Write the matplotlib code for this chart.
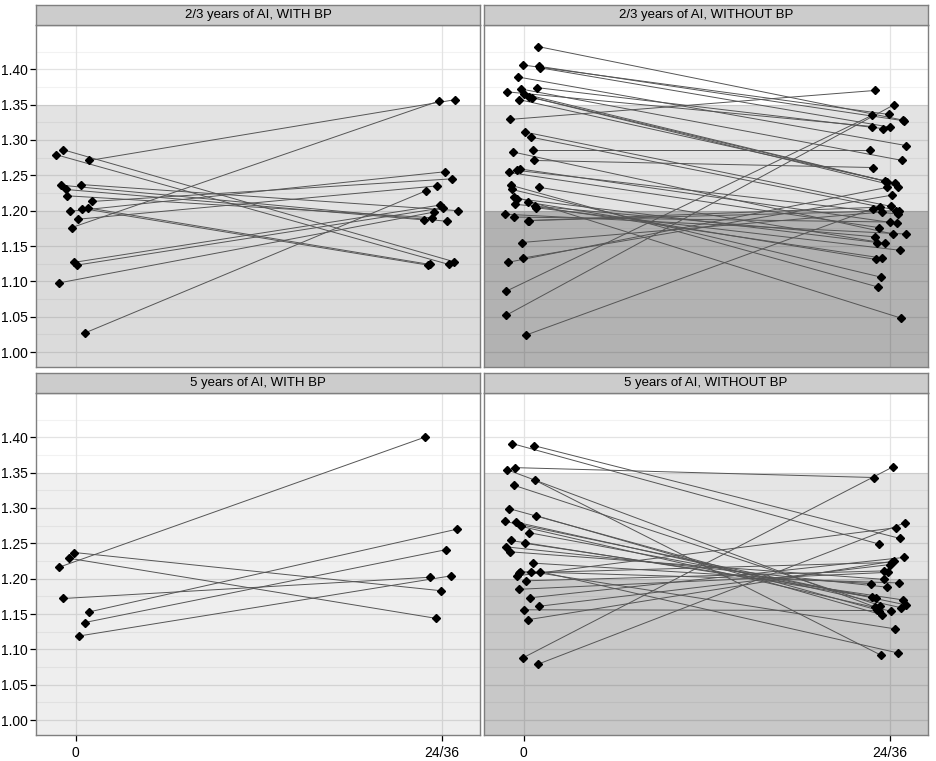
import matplotlib
matplotlib.use("Agg")
import matplotlib.pyplot as plt
import numpy as np

plt.rcParams["font.family"] = ["Liberation Sans", "DejaVu Sans"]

# ---- data: value at baseline (0) and at follow-up (24/36), plus jitter ----
x_labels = ["0", "24/36"]
y_ticks = [1.00, 1.05, 1.10, 1.15, 1.20, 1.25, 1.30, 1.35, 1.40]
band_hi = 1.35
band_lo = 1.20

titles = ["2/3 years of AI, WITH BP", "2/3 years of AI, WITHOUT BP",
          "5 years of AI, WITH BP", "5 years of AI, WITHOUT BP"]

tl_t0 = [1.279, 1.286, 1.271, 1.236, 1.230, 1.221, 1.237, 1.199, 1.203,
         1.204, 1.213, 1.188, 1.176, 1.127, 1.123, 1.098, 1.027]
tl_t1 = [1.124, 1.128, 1.357, 1.185, 1.187, 1.190, 1.200, 1.255, 1.123,
         1.124, 1.245, 1.235, 1.355, 1.208, 1.204, 1.198, 1.228]
tl_j0 = [-0.052, -0.033, 0.038, -0.039, -0.027, -0.022, 0.014, -0.016, 0.019,
         0.033, 0.044, 0.008, -0.011, -0.003, 0.003, -0.044, 0.025]
tl_j1 = [0.020, 0.033, 0.038, 0.015, -0.049, -0.026, 0.045, 0.009, -0.037,
         -0.032, 0.028, -0.013, -0.007, -0.003, 0.003, -0.021, -0.043]

tr_t0 = [1.432, 1.406, 1.404, 1.402, 1.389, 1.368, 1.372, 1.374, 1.365, 1.357,
         1.361, 1.360, 1.329, 1.311, 1.304, 1.286, 1.283, 1.271, 1.254, 1.257,
         1.259, 1.236, 1.230, 1.233, 1.220, 1.217, 1.209, 1.212, 1.206, 1.204,
         1.195, 1.191, 1.186, 1.186, 1.155, 1.133, 1.127, 1.086, 1.052, 1.024]
tr_t1 = [1.328, 1.336, 1.327, 1.318, 1.292, 1.319, 1.271, 1.316, 1.242, 1.239,
         1.241, 1.234, 1.370, 1.206, 1.200, 1.286, 1.167, 1.261, 1.176, 1.195,
         1.182, 1.092, 1.106, 1.154, 1.048, 1.155, 1.163, 1.131, 1.133, 1.144,
         1.167, 1.184, 1.200, 1.205, 1.198, 1.222, 1.233, 1.335, 1.350, 1.203]
tr_j0 = [0.040, -0.002, 0.043, 0.045, -0.015, -0.045, -0.007, 0.036, 0.001, -0.012,
         0.016, 0.022, -0.037, 0.005, 0.020, 0.025, -0.029, 0.028, -0.040, -0.018,
         -0.010, -0.035, -0.032, 0.043, -0.026, -0.018, -0.024, 0.012, 0.032, 0.035,
         -0.051, -0.026, 0.012, 0.015, -0.005, -0.002, -0.042, -0.048, -0.048, 0.006]
tr_j1 = [0.037, -0.001, 0.040, 0.002, 0.046, -0.048, 0.035, -0.017, -0.013, 0.015,
         -0.007, 0.024, -0.039, 0.005, 0.026, -0.053, 0.010, -0.045, -0.028, 0.024,
         0.021, -0.031, -0.023, -0.012, 0.032, -0.034, -0.041, -0.036, -0.020, 0.029,
         0.044, 0.002, 0.018, -0.025, -0.022, 0.007, -0.006, -0.047, 0.013, -0.045]

bl_t0 = [1.216, 1.229, 1.237, 1.172, 1.153, 1.138, 1.119]
bl_t1 = [1.400, 1.144, 1.183, 1.202, 1.270, 1.241, 1.204]
bl_j0 = [-0.046, -0.019, -0.003, -0.033, 0.037, 0.025, 0.010]
bl_j1 = [-0.046, -0.016, -0.002, -0.032, 0.042, 0.012, 0.026]

br_t0 = [1.391, 1.388, 1.354, 1.357, 1.339, 1.332, 1.299, 1.281, 1.280, 1.289,
         1.274, 1.265, 1.254, 1.250, 1.245, 1.238, 1.222, 1.204, 1.208, 1.210,
         1.210, 1.210, 1.197, 1.185, 1.173, 1.161, 1.156, 1.142, 1.088, 1.079]
br_t1 = [1.249, 1.257, 1.160, 1.343, 1.092, 1.162, 1.156, 1.163, 1.159, 1.149,
         1.154, 1.173, 1.174, 1.170, 1.188, 1.199, 1.193, 1.272, 1.223, 1.194,
         1.129, 1.095, 1.211, 1.209, 1.230, 1.220, 1.155, 1.225, 1.358, 1.279]
br_j0 = [-0.031, 0.029, -0.045, -0.024, 0.032, -0.026, -0.039, -0.051, -0.021, 0.035,
         -0.007, 0.015, -0.035, 0.004, -0.048, -0.037, 0.025, -0.018, -0.013, -0.010,
         0.020, 0.045, 0.006, -0.013, 0.018, 0.042, 0.001, 0.012, -0.002, 0.039]
br_j1 = [-0.029, 0.028, -0.040, -0.042, -0.024, -0.026, -0.035, 0.044, 0.031, -0.021,
         0.004, -0.037, -0.048, 0.036, -0.007, -0.015, -0.051, 0.017, 0.006, 0.026,
         0.015, 0.023, -0.014, -0.003, 0.039, 0.001, -0.030, 0.012, 0.009, 0.042]

# shading of the two bands per panel (opacity of black over white)
band_alpha_hi = [0.110, 0.110, 0.059, 0.102]
band_alpha_lo = [0.031, 0.211, 0.008, 0.127]

panels = [(tl_t0, tl_t1, tl_j0, tl_j1), (tr_t0, tr_t1, tr_j0, tr_j1),
          (bl_t0, bl_t1, bl_j0, bl_j1), (br_t0, br_t1, br_j0, br_j1)]

W, H = 937, 761
fig = plt.figure(figsize=(W / 100, H / 100), dpi=100)


def px_box(x0, y0, x1, y1):
    return [x0 / W, 1 - y1 / H, (x1 - x0) / W, (y1 - y0) / H]


cols = [(36, 480), (484, 928)]
rows = [(5, 25, 367), (373, 393, 735)]
border = "#7f7f7f"

for i, (t0, t1, j0, j1) in enumerate(panels):
    r, c = divmod(i, 2)
    x0, x1 = cols[c]
    s0, p0, p1 = rows[r]

    ax = fig.add_axes(px_box(x0, p0, x1, p1))
    ax.set_xlim(-0.108, 1.105)
    ax.set_ylim(0.979, 1.4625)

    # grid
    for y in np.arange(1.025, 1.45, 0.05):
        ax.axhline(y, color="#f2f2f2", lw=0.8, zorder=0)
    for y in y_ticks:
        ax.axhline(y, color="#e3e3e3", lw=0.9, zorder=0)
    for x in [0, 1]:
        ax.axvline(x, color="#e3e3e3", lw=0.9, zorder=0)

    # reference bands
    ax.axhspan(0.9, band_hi, color="black", alpha=band_alpha_hi[i], lw=0, zorder=1)
    ax.axhspan(0.9, band_lo, color="black", alpha=band_alpha_lo[i], lw=0, zorder=1)

    xs0 = np.array(j0)
    xs1 = 1 + np.array(j1)
    for a, b, ya, yb in zip(xs0, xs1, t0, t1):
        ax.plot([a, b], [ya, yb], color="#555555", lw=0.7, zorder=2)
    ax.plot(xs0, t0, "D", color="black", ms=4.0, zorder=3, lw=0)
    ax.plot(xs1, t1, "D", color="black", ms=4.0, zorder=3, lw=0)

    for sp in ax.spines.values():
        sp.set_color(border)
        sp.set_linewidth(1.0)
    ax.set_yticks(y_ticks)
    ax.set_xticks([0, 1])
    ax.tick_params(length=4, width=0.9, color="black", labelsize=10,
                   labelcolor="black", pad=2)
    ax.tick_params(axis="x", pad=4)
    if c == 0:
        ax.set_yticklabels([f"{v:.2f}" for v in y_ticks])
    else:
        ax.tick_params(axis="y", length=0, labelleft=False)
    if r == 1:
        ax.set_xticklabels(x_labels)
    else:
        ax.tick_params(axis="x", length=0, labelbottom=False)

    # facet strip
    sax = fig.add_axes(px_box(x0, s0, x1, p0))
    sax.set_facecolor("#cccccc")
    sax.set_xticks([])
    sax.set_yticks([])
    for sp in sax.spines.values():
        sp.set_color(border)
        sp.set_linewidth(1.0)
    sax.text(0.5, 0.48, titles[i], ha="center", va="center", fontsize=9.5,
             color="black", transform=sax.transAxes)

fig.savefig("out.png", dpi=100)
